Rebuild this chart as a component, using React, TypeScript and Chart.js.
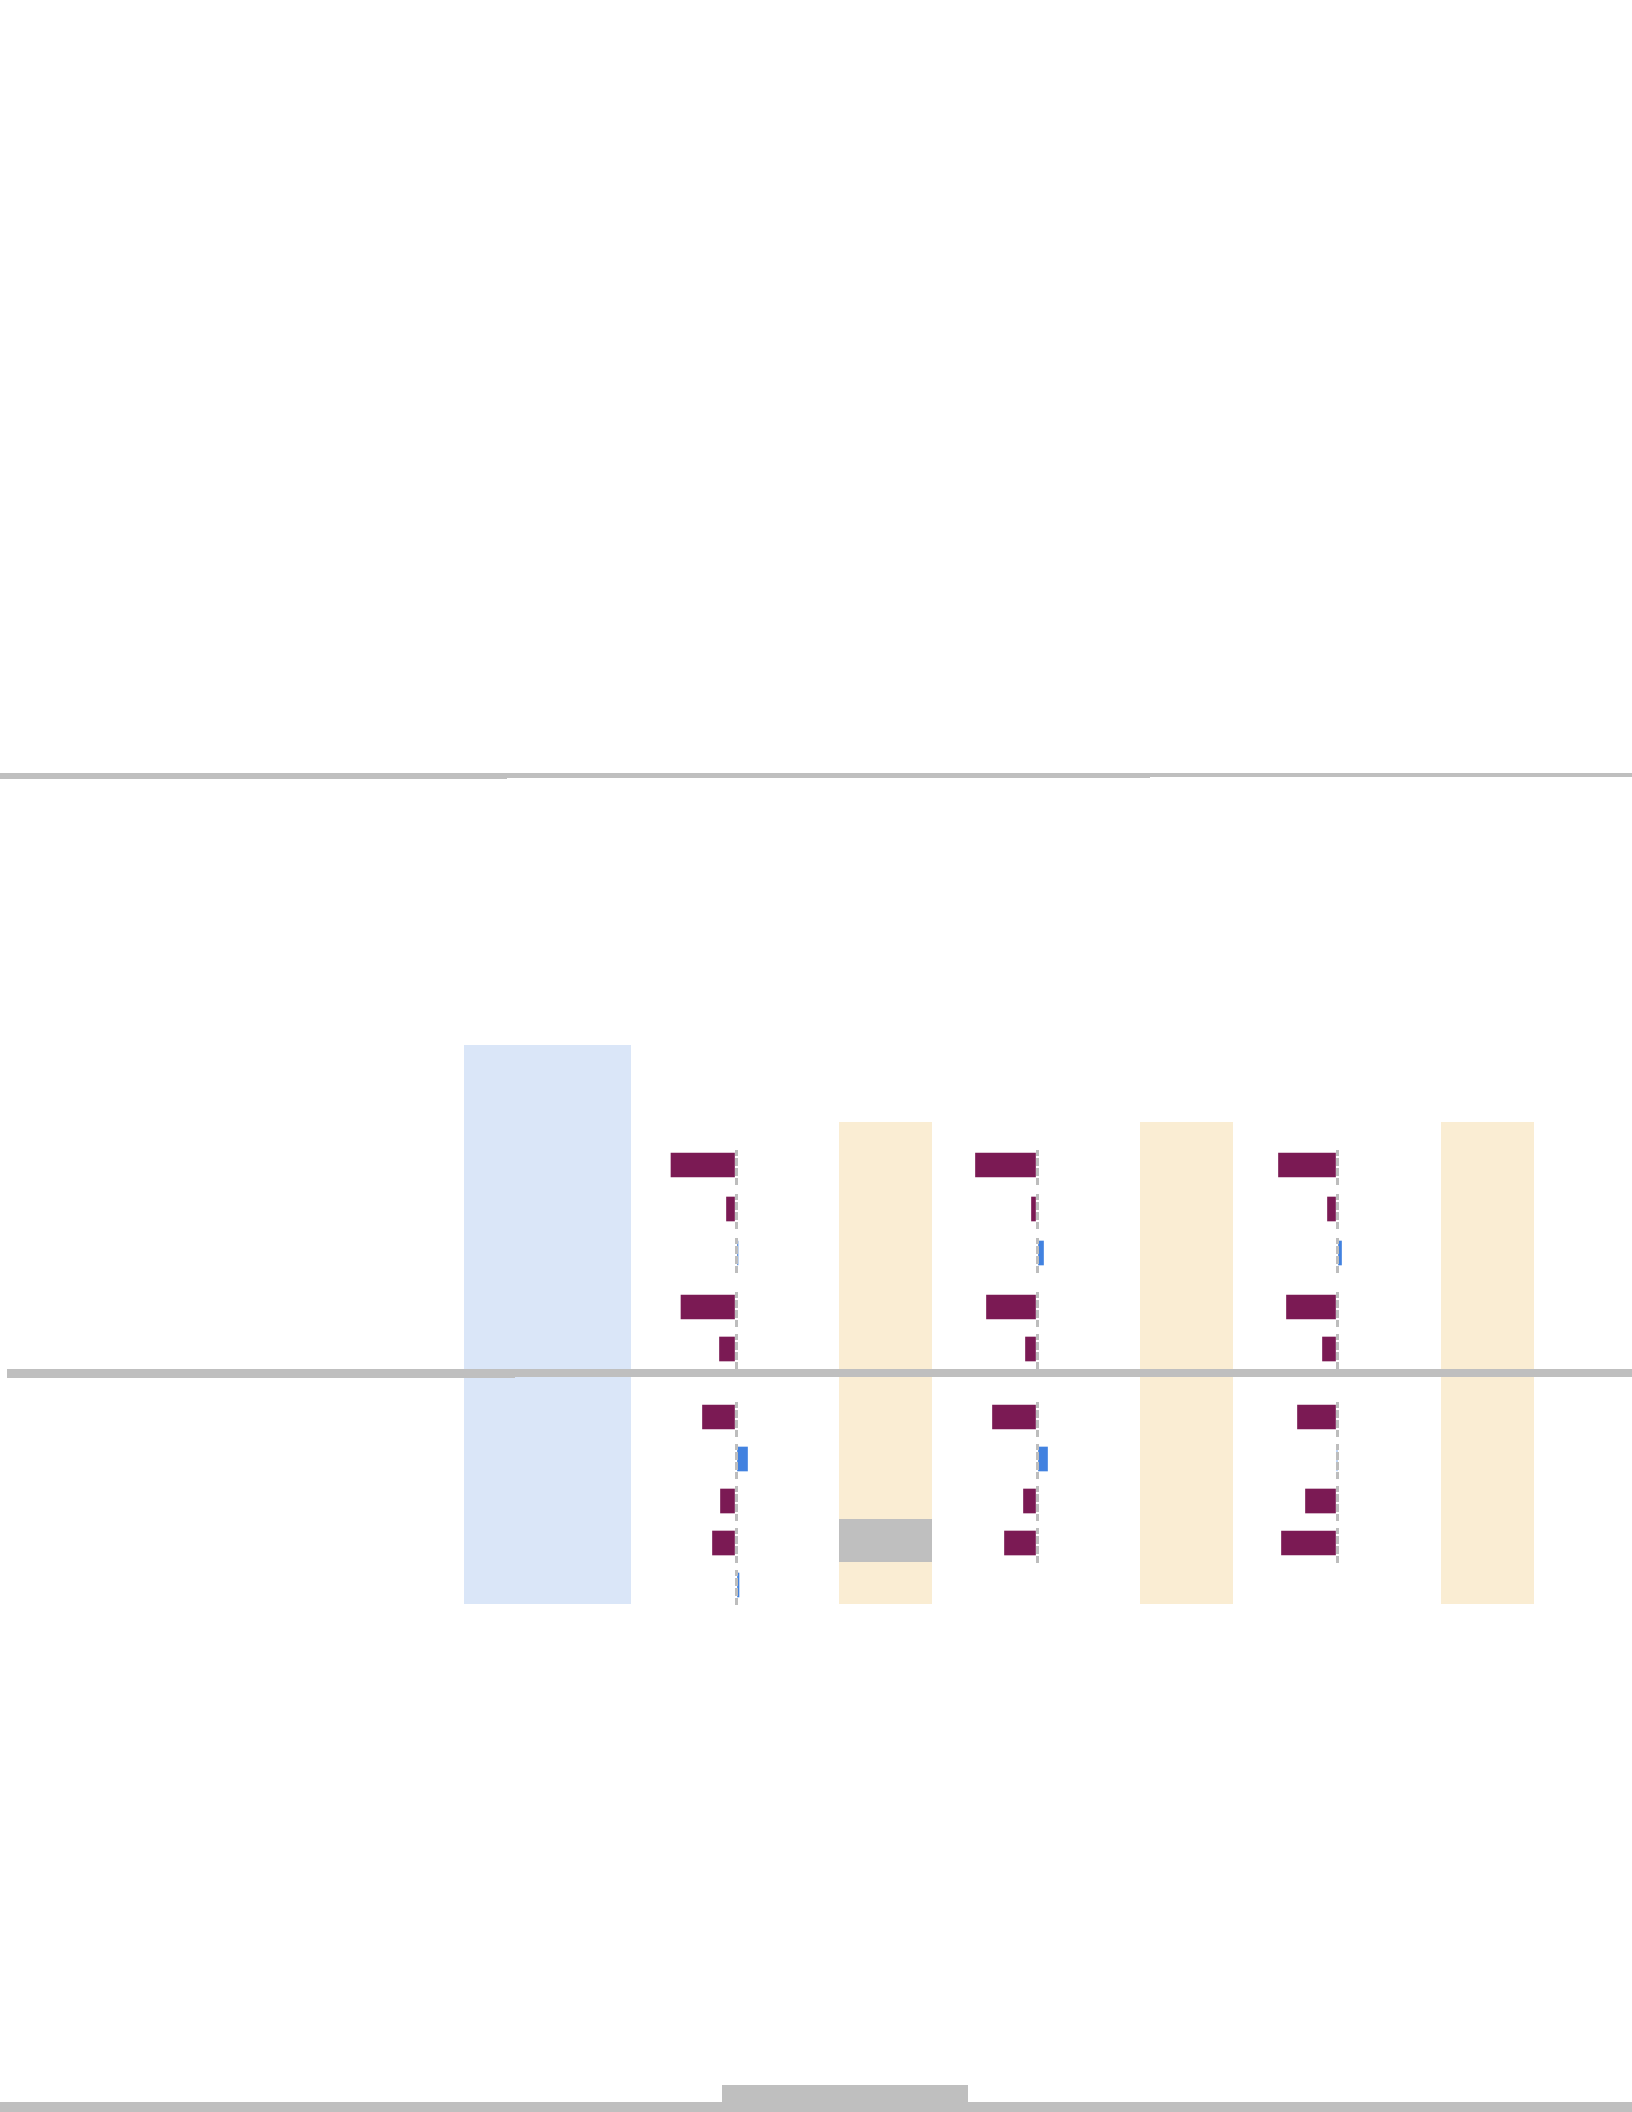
import React, { useEffect, useRef } from "react";
import { Chart, registerables } from "chart.js";

Chart.register(...registerables);

// ---- data (one value per table row, per column) ----
const rowLabels = ["r1", "r2", "r3", "r4", "r5", "r6", "r7", "r8", "r9", "r10"];
const seriesA: (number | null)[] = [-6.5, -0.95, 0.2, -5.5, -1.65, -3.35, 1.15, -1.55, -2.35, 0.3];
const seriesB: (number | null)[] = [-6.15, -0.55, 0.65, -5.05, -1.15, -4.45, 1.05, -1.35, -3.25, null];
const seriesC: (number | null)[] = [-5.85, -0.95, 0.45, -5.05, -1.45, -3.95, 0, -3.15, -5.55, null];
const axisMin = -10;
const axisMax = 10;
const axisStep = 10;

// ---- layout / style (kept apart from data) ----
const ROW_TOPS = [1150, 1194, 1238, 1292, 1334, 1402, 1444, 1486, 1528, 1570];
const COLUMN_LEFTS = [636, 937, 1237];
const CELL_W = 200;
const CELL_H = 35;
const NEG = "#7b1a54";
const POS = "#4282e0";
const GRID = "#bdbdbd";

type CellProps = { value: number; label: string; left: number; top: number };

function BarCell({ value, label, left, top }: CellProps) {
  const ref = useRef<HTMLCanvasElement | null>(null);
  useEffect(() => {
    if (!ref.current) return;
    const zeroColor = (c: any) => (c.tick && c.tick.value === 0 ? GRID : "rgba(0,0,0,0)");
    const chart = new Chart(ref.current, {
      type: "bar",
      data: {
        labels: [label],
        datasets: [
          {
            data: [value],
            backgroundColor: value < 0 ? NEG : POS,
            borderWidth: 0,
            barThickness: 24,
          } as any,
        ],
      },
      options: {
        indexAxis: "y",
        responsive: false,
        maintainAspectRatio: false,
        animation: false,
        devicePixelRatio: 1,
        events: [],
        layout: { padding: 0 },
        plugins: { legend: { display: false }, tooltip: { enabled: false }, title: { display: false } },
        scales: {
          x: {
            type: "linear",
            min: axisMin,
            max: axisMax,
            position: "bottom",
            ticks: { display: false, stepSize: axisStep },
            border: { display: false, dash: [8, 2], dashOffset: 2 } as any,
            grid: {
              z: 1,
              drawTicks: true,
              tickLength: 5,
              lineWidth: 3,
              tickWidth: 3,
              color: zeroColor,
              tickColor: zeroColor,
              tickBorderDash: [8, 2],
              borderDash: [8, 2],
              borderDashOffset: 2,
            } as any,
          },
          y: { type: "category", display: false },
        },
      } as any,
    });
    return () => chart.destroy();
  }, [value, label]);
  return (
    <canvas
      ref={ref}
      width={CELL_W}
      height={CELL_H}
      style={{ position: "absolute", left, top, width: CELL_W, height: CELL_H }}
    />
  );
}

const box = (left: number, top: number, width: number, height: number, background: string): React.CSSProperties => ({
  position: "absolute",
  left,
  top,
  width,
  height,
  background,
});

export default function App() {
  const columns = [seriesA, seriesB, seriesC];
  return (
    <div
      style={{
        position: "absolute",
        left: 0,
        top: 0,
        width: 1632,
        height: 2112,
        overflow: "hidden",
        background: "#ffffff",
      }}
    >
      {/* column highlight bands */}
      <div style={box(464, 1045, 167, 559, "#dae6f8")} />
      <div style={box(839, 1122, 93, 482, "#faedd3")} />
      <div style={box(1140, 1122, 93, 482, "#faedd3")} />
      <div style={box(1441, 1122, 93, 482, "#faedd3")} />
      <div style={box(839, 1519, 93, 43, "#bfbfbf")} />

      {columns.map((series, ci) =>
        series.map((v, ri) =>
          v === null ? null : (
            <BarCell key={`${ci}-${ri}`} value={v} label={rowLabels[ri]} left={COLUMN_LEFTS[ci]} top={ROW_TOPS[ri]} />
          )
        )
      )}

      {/* rules */}
      <div style={box(0, 773, 507, 6, "#bfbfbf")} />
      <div style={box(507, 773, 643, 5, "#bfbfbf")} />
      <div style={box(1150, 773, 482, 4, "#bfbfbf")} />
      <div style={box(7, 1369, 508, 9, "#bfbfbf")} />
      <div style={box(515, 1369, 1117, 8, "#bfbfbf")} />
      <div style={box(722, 2085, 246, 17, "#bfbfbf")} />
      <div style={box(0, 2102, 1632, 10, "#bfbfbf")} />
    </div>
  );
}
